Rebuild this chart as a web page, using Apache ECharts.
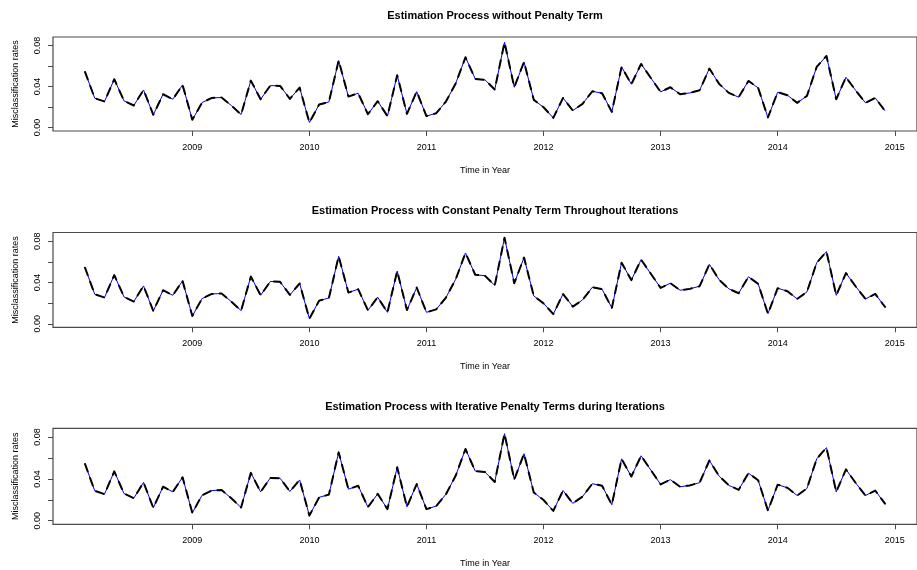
<!DOCTYPE html>
<html>
<head>
<meta charset="utf-8">
<script src="https://cdn.jsdelivr.net/npm/echarts@6/dist/echarts.min.js"></script>
<style>
  html, body { margin: 0; padding: 0; background: #fff; }
  #chart { width: 917px; height: 570px; }
</style>
</head>
<body>
<div id="chart"></div>
<script>
// Monthly misclassification rates, Feb 2008 .. Dec 2014
const startYear = 2008;
const startMonth = 2;
const rates = [
  0.0543, 0.0286, 0.0254, 0.0472, 0.0260, 0.0215, 0.0367, 0.0124, 0.0325, 0.0276, 0.0416,
  0.0075, 0.0244, 0.0289, 0.0293, 0.0215, 0.0127, 0.0458, 0.0276, 0.0410, 0.0406, 0.0280, 0.0390,
  0.0049, 0.0224, 0.0250, 0.0654, 0.0302, 0.0335, 0.0130, 0.0257, 0.0111, 0.0511, 0.0133, 0.0351,
  0.0111, 0.0140, 0.0254, 0.0432, 0.0686, 0.0475, 0.0465, 0.0371, 0.0833, 0.0393, 0.0641, 0.0270,
  0.0198, 0.0094, 0.0289, 0.0166, 0.0231, 0.0354, 0.0335, 0.0153, 0.0592, 0.0423, 0.0621, 0.0484,
  0.0348, 0.0393, 0.0325, 0.0338, 0.0364, 0.0576, 0.0426, 0.0338, 0.0296, 0.0455, 0.0387, 0.0098,
  0.0345, 0.0315, 0.0241, 0.0309, 0.0592, 0.0699, 0.0276, 0.0491, 0.0361, 0.0241, 0.0289, 0.0163
];

const panelTitles = [
  'Estimation Process without Penalty Term',
  'Estimation Process with Constant Penalty Term Throughout Iterations',
  'Estimation Process with Iterative Penalty Terms during Iterations'
];
const yearTicks = [2009, 2010, 2011, 2012, 2013, 2014, 2015];
const rateTicks = [0, 0.02, 0.04, 0.06, 0.08];
const rateLabels = [0, 0.04, 0.08];
const xLabel = 'Time in Year';
const yLabel = 'Misclassification rates';

// time index of each observation (decimal years)
const times = rates.map((_, i) => startYear + (startMonth - 1 + i) / 12);
const pairs = times.map((t, i) => [t, rates[i]]);

const FONT = '"Liberation Sans", Arial, Helvetica, sans-serif';
const panelTop = [37, 232.5, 428.3];
const panelHeight = [94, 94.8, 96];
const plotLeft = 53;
const plotWidth = 874;
const plotCenter = plotLeft + plotWidth / 2;

const grids = [], xAxes = [], yAxes = [], series = [], titles = [];

panelTitles.forEach((name, p) => {
  grids.push({
    left: plotLeft, top: panelTop[p], width: plotWidth, height: panelHeight[p],
    show: true, borderColor: '#4a4a4a', borderWidth: 1.2, backgroundColor: '#fff'
  });
  titles.push({
    text: name,
    left: plotCenter, top: panelTop[p] - 32, textAlign: 'center',
    textStyle: { fontFamily: FONT, fontSize: 11, fontWeight: 'bold', color: '#000' }
  });
  xAxes.push({
    type: 'value', gridIndex: p, min: 2007.81, max: 2015.19, position: 'bottom',
    name: xLabel, nameLocation: 'middle', nameGap: 35,
    nameTextStyle: { fontFamily: FONT, fontSize: 9, color: '#000' },
    axisLine: { show: false, onZero: false },
    splitLine: { show: false },
    axisTick: { show: true, length: 5, customValues: yearTicks, lineStyle: { color: '#4a4a4a', width: 1 } },
    axisLabel: {
      customValues: yearTicks, margin: 12,
      fontFamily: FONT, fontSize: 9, color: '#000',
      formatter: v => String(Math.round(v))
    }
  });
  yAxes.push({
    type: 'value', gridIndex: p, min: -0.0034, max: 0.0884, position: 'left',
    name: yLabel, nameLocation: 'middle', nameGap: 33, nameRotate: 90,
    nameTextStyle: { fontFamily: FONT, fontSize: 9, color: '#000' },
    axisLine: { show: false, onZero: false },
    splitLine: { show: false },
    axisTick: { show: true, length: 5, customValues: rateTicks, lineStyle: { color: '#4a4a4a', width: 1 } },
    axisLabel: {
      customValues: rateLabels, rotate: 90, margin: 11,
      fontFamily: FONT, fontSize: 9, color: '#000',
      formatter: v => v.toFixed(2)
    }
  });
  // thin blue reference line under the dashed black trace
  series.push({
    type: 'line', xAxisIndex: p, yAxisIndex: p, data: pairs,
    symbol: 'none', silent: true, z: 2,
    lineStyle: { color: '#0000ff', width: 1 }
  });
  series.push({
    type: 'line', xAxisIndex: p, yAxisIndex: p, data: pairs,
    symbol: 'none', silent: true, z: 3,
    lineStyle: { color: '#000', width: 2, type: [8, 7], cap: 'round', join: 'round' }
  });
});

const chart = echarts.init(document.getElementById('chart'), null, { renderer: 'canvas' });
chart.setOption({
  animation: false,
  backgroundColor: '#fff',
  title: titles,
  grid: grids,
  xAxis: xAxes,
  yAxis: yAxes,
  series: series
});
</script>
</body>
</html>
